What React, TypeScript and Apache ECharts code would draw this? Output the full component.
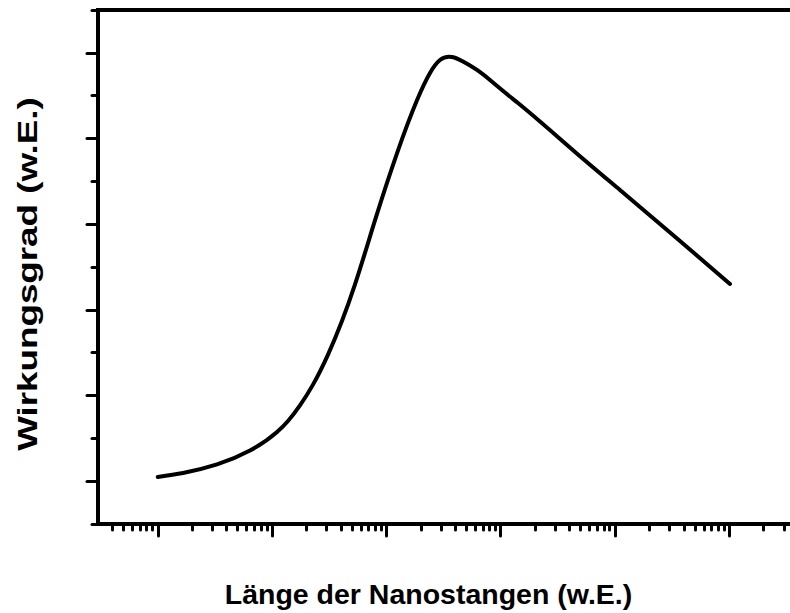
import React, { useEffect, useRef } from "react";
import * as echarts from "echarts";

// Rod length (arbitrary units, log scale) and efficiency (arbitrary units)
const lengths = [1.0, 1.665, 3.30, 6.41, 11.05, 13.79, 17.55, 22.81, 30.87, 53.17, 79.5, 123.9, 185.3, 240.9, 294.5, 375.1, 468.2, 620.7, 806.5, 1091, 1418, 4475, 11066, 37070, 101500];
const efficiency = [1.049, 1.096, 1.195, 1.358, 1.574, 1.703, 1.885, 2.127, 2.478, 3.297, 4.044, 4.827, 5.446, 5.765, 5.916, 5.951, 5.899, 5.800, 5.683, 5.537, 5.414, 4.843, 4.399, 3.804, 3.302];

const xMajorTicks = [1, 10, 100, 1000, 10000, 100000];
const xMinorTicks = [
  0.4, 0.5, 0.6, 0.7, 0.8, 0.9,
  2, 3, 4, 5, 6, 7, 8, 9,
  20, 30, 40, 50, 60, 70, 80, 90,
  200, 300, 400, 500, 600, 700, 800, 900,
  2000, 3000, 4000, 5000, 6000, 7000, 8000, 9000,
  20000, 30000, 40000, 50000, 60000, 70000, 80000, 90000,
  200000, 300000,
];
const yMajorTicks = [1, 2, 3, 4, 5, 6];
const yMinorTicks = [0.5, 1.5, 2.5, 3.5, 4.5, 5.5, 6.5];

const xTitle = "Länge der Nanostangen (w.E.)";
const yTitle = "Wirkungsgrad (w.E.)";

// Natural cubic spline through pixel points (x strictly increasing) -> SVG path
function splinePath(pts: number[][]): string {
  const n = pts.length;
  if (n < 2) return "";
  const xs = pts.map((p) => p[0]);
  const ys = pts.map((p) => p[1]);
  const h: number[] = [];
  for (let i = 0; i < n - 1; i++) h.push(xs[i + 1] - xs[i]);
  const a: number[] = new Array(n).fill(0);
  const b: number[] = new Array(n).fill(1);
  const c: number[] = new Array(n).fill(0);
  const d: number[] = new Array(n).fill(0);
  for (let i = 1; i < n - 1; i++) {
    a[i] = h[i - 1];
    b[i] = 2 * (h[i - 1] + h[i]);
    c[i] = h[i];
    d[i] = 6 * ((ys[i + 1] - ys[i]) / h[i] - (ys[i] - ys[i - 1]) / h[i - 1]);
  }
  const cp: number[] = new Array(n).fill(0);
  const dp: number[] = new Array(n).fill(0);
  cp[0] = c[0] / b[0];
  dp[0] = d[0] / b[0];
  for (let i = 1; i < n; i++) {
    const m = b[i] - a[i] * cp[i - 1];
    cp[i] = c[i] / m;
    dp[i] = (d[i] - a[i] * dp[i - 1]) / m;
  }
  const M: number[] = new Array(n).fill(0);
  M[n - 1] = dp[n - 1];
  for (let i = n - 2; i >= 0; i--) M[i] = dp[i] - cp[i] * M[i + 1];
  let path = `M${xs[0]},${ys[0]}`;
  for (let i = 0; i < n - 1; i++) {
    const hi = h[i];
    const s = (ys[i + 1] - ys[i]) / hi;
    const m0 = s - (hi * (2 * M[i] + M[i + 1])) / 6;
    const m1 = s + (hi * (M[i] + 2 * M[i + 1])) / 6;
    path += ` C${xs[i] + hi / 3},${ys[i] + (m0 * hi) / 3} ${xs[i + 1] - hi / 3},${ys[i + 1] - (m1 * hi) / 3} ${xs[i + 1]},${ys[i + 1]}`;
  }
  return path;
}

export default function App() {
  const ref = useRef<HTMLDivElement>(null);
  useEffect(() => {
    if (!ref.current) return;
    const chart = echarts.init(ref.current, null, { renderer: "svg" });
    const black = "#000";
    const xBase = { type: "log", logBase: 10, min: 0.3, max: 340000, gridIndex: 0 };
    const yBase = { type: "value", min: 0.5, max: 6.5, gridIndex: 0 };
    chart.setOption({
      animation: false,
      backgroundColor: "#fff",
      grid: { left: 98, top: 10, right: 0, bottom: 89, containLabel: false },
      xAxis: [
        {
          ...xBase,
          position: "bottom",
          axisLine: { show: true, lineStyle: { color: black, width: 4, cap: "square" } },
          axisTick: { show: true, customValues: xMajorTicks, length: 12, inside: false, lineStyle: { color: black, width: 3, cap: "round" } },
          axisLabel: { show: false },
          splitLine: { show: false },
          minorTick: { show: false },
        },
        {
          ...xBase,
          position: "bottom",
          axisLine: { show: false },
          axisTick: { show: true, customValues: xMinorTicks, length: 6, inside: false, lineStyle: { color: black, width: 3, cap: "round" } },
          axisLabel: { show: false },
          splitLine: { show: false },
        },
        {
          ...xBase,
          position: "top",
          axisLine: { show: true, lineStyle: { color: black, width: 4, cap: "square" } },
          axisTick: { show: false },
          axisLabel: { show: false },
          splitLine: { show: false },
        },
      ],
      yAxis: [
        {
          ...yBase,
          position: "left",
          axisLine: { show: true, lineStyle: { color: black, width: 4, cap: "square" } },
          axisTick: { show: true, customValues: yMajorTicks, length: 11, inside: false, lineStyle: { color: black, width: 3, cap: "round" } },
          axisLabel: { show: false },
          splitLine: { show: false },
        },
        {
          ...yBase,
          position: "left",
          offset: 0,
          axisLine: { show: false },
          axisTick: { show: true, customValues: yMinorTicks, length: 6, inside: false, lineStyle: { color: black, width: 3, cap: "round" } },
          axisLabel: { show: false },
          splitLine: { show: false },
        },
      ],
      series: [
        {
          type: "custom",
          name: yTitle,
          coordinateSystem: "cartesian2d",
          xAxisIndex: 0,
          yAxisIndex: 0,
          data: lengths.map((l, i) => [l, efficiency[i]]),
          encode: { x: 0, y: 1 },
          clip: false,
          renderItem: (params: any, api: any) => {
            if (params.dataIndex !== 0) return null;
            const pts = lengths.map((l, i) => api.coord([l, efficiency[i]]));
            return {
              type: "path",
              shape: { pathData: splinePath(pts) },
              style: { stroke: black, lineWidth: 4, fill: "none", lineCap: "round", lineJoin: "round" },
            };
          },
        },
      ],
      graphic: [
        {
          type: "text",
          x: 428.5,
          y: 594,
          style: {
            text: xTitle,
            font: 'bold 28.5px "Liberation Sans", Arial, sans-serif',
            fill: black,
            textAlign: "center",
            textVerticalAlign: "middle",
          },
        },
        {
          type: "text",
          x: 27,
          y: 274,
          rotation: Math.PI / 2,
          scaleX: 1.29,
          style: {
            text: yTitle,
            font: 'bold 28.5px "Liberation Sans", Arial, sans-serif',
            fill: black,
            textAlign: "center",
            textVerticalAlign: "middle",
          },
        },
      ],
    });
    return () => chart.dispose();
  }, []);
  return (
    <div
      ref={ref}
      style={{ position: "absolute", left: 0, top: 0, width: 790, height: 613, background: "#fff" }}
    />
  );
}
